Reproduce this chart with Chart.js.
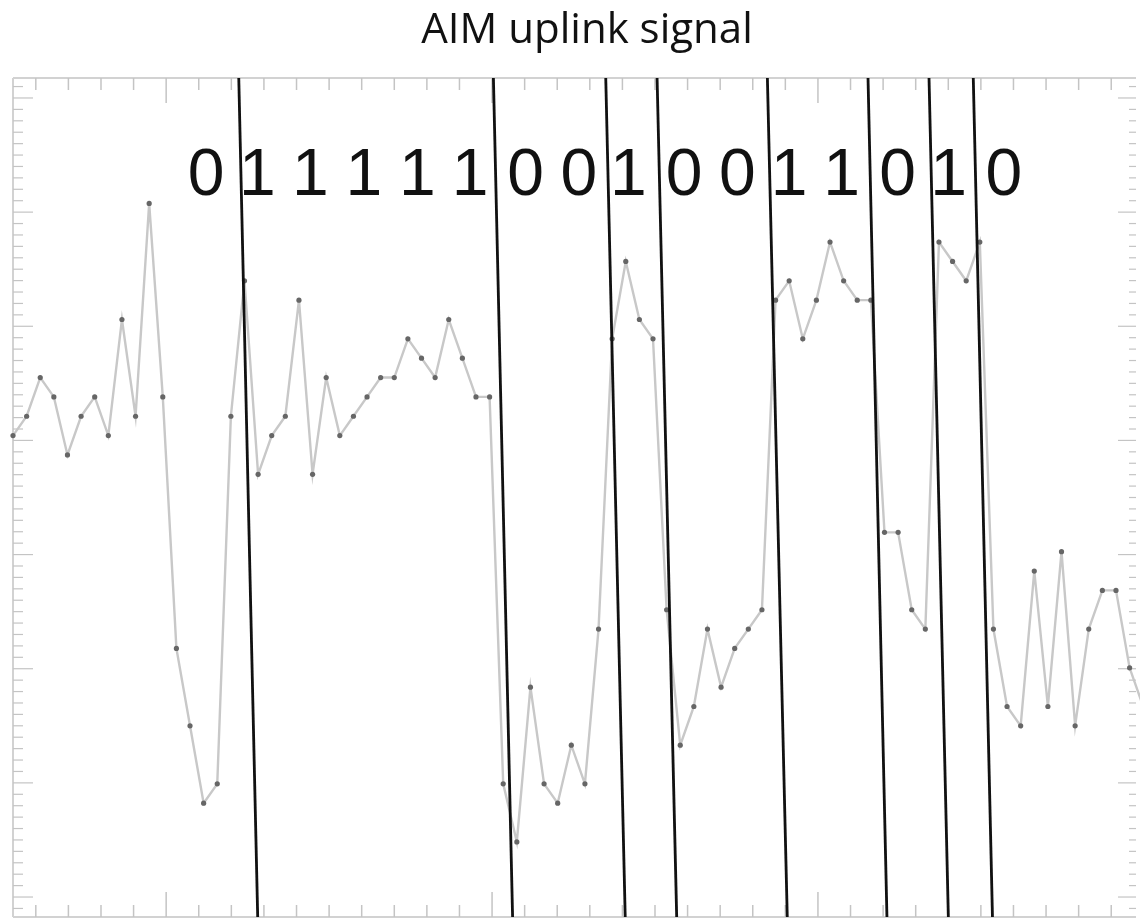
<!DOCTYPE html>
<html>
<head>
<meta charset="utf-8">
<title>AIM uplink signal</title>
<script src="https://cdn.jsdelivr.net/npm/chart.js@4/dist/chart.umd.min.js"></script>
<style>
  html, body { margin: 0; padding: 0; background: #fff; }
  #wrap { width: 1140px; height: 921px; position: relative; }
</style>
</head>
<body>
<div id="wrap"><canvas id="signalChart"></canvas></div>
<script>
const signal = [21, 22, 24, 23, 20, 22, 23, 21, 27, 22,
                33, 23, 10, 6, 2, 3, 22, 29, 19, 21,
                22, 28, 19, 24, 21, 22, 23, 24, 24, 26,
                25, 24, 27, 25, 23, 23, 3, 0, 8, 3,
                2, 5, 3, 11, 26, 30, 27, 26, 12, 5,
                7, 11, 8, 10, 11, 12, 28, 29, 26, 28,
                31, 29, 28, 28, 16, 16, 12, 11, 31, 30,
                29, 31, 11, 7, 6, 14, 7, 15, 6, 11,
                13, 13, 9, 7];

// decoded bits and where they sit (in sample units)
const bits = ['0', '1', '1', '1', '1', '1', '0', '0', '1', '0', '0', '1', '1', '0', '1', '0'];
const bitCenters = [14.19, 18.02, 21.93, 25.85, 29.77, 33.65, 37.66, 41.56,
                    45.28, 49.30, 53.20, 57.08, 60.94, 64.97, 68.79, 72.77];

// black boundary lines, x at top and bottom of the frame (sample units)
const boundaryTop    = [16.58, 35.28, 43.53, 47.30, 55.40, 62.79, 67.27, 70.52];
const boundaryBottom = [17.97, 36.69, 44.96, 48.74, 56.86, 64.18, 68.69, 71.93];

// axis ranges
const xRange = [0, 82.47];        // samples
const yRange = [-3.88, 39.48];    // levels
const xTickRange = [-4.70, 29.76]; // frame tick units (major every 10)
const yTickRange = [-1.75, 71.75];

const signalData = signal.map((v, i) => ({ x: i, y: v }));

const boundarySets = boundaryTop.map((xt, k) => ({
    data: [{ x: xt, y: yRange[1] }, { x: boundaryBottom[k], y: yRange[0] }],
    borderColor: '#111',
    borderWidth: 2.8,
    pointRadius: 0,
    tension: 0,
    order: 1
}));

// frame with inward ticks on all four sides
const frameTicks = {
    id: 'frameTicks',
    beforeDatasetsDraw(chart) {
        const { ctx, chartArea: a, scales } = chart;
        const xt = scales.xt, yt = scales.yt;
        const seg = (x1, y1, x2, y2) => { ctx.beginPath(); ctx.moveTo(x1, y1); ctx.lineTo(x2, y2); ctx.stroke(); };
        ctx.save();
        ctx.strokeStyle = '#d2d2d2';
        ctx.lineWidth = 2;
        seg(a.left, a.top, a.right, a.top);
        seg(a.left, a.bottom, a.right, a.bottom);
        seg(a.left, a.top, a.left, a.bottom);

        ctx.strokeStyle = '#c4c4c4';
        ctx.lineWidth = 1.5;
        for (let t = Math.ceil(xt.min); t <= xt.max; t++) {
            const x = xt.getPixelForValue(t);
            const len = (t % 10 === 0) ? 25 : 12;
            seg(x, a.top, x, a.top + len);
            seg(x, a.bottom, x, a.bottom - len);
        }
        ctx.lineWidth = 1.2;
        for (let v = Math.ceil(yt.min); v <= yt.max; v++) {
            const y = yt.getPixelForValue(v);
            const major = (v % 10 === 0);
            seg(a.left, y, a.left + (major ? 20 : 10), y);
            seg(a.right, y, a.right - (major ? 18 : 7), y);
        }
        ctx.restore();
    }
};

// title and bit digits
const labels = {
    id: 'labels',
    afterDatasetsDraw(chart) {
        const { ctx, chartArea: a, scales } = chart;
        ctx.save();
        ctx.fillStyle = '#111';
        ctx.textBaseline = 'alphabetic';
        ctx.font = '42px "Open Sans"';
        ctx.textAlign = 'center';
        ctx.fillText('AIM uplink signal', 587, 43);

        ctx.font = '66px "Liberation Sans", Arial, sans-serif';
        ctx.textAlign = 'left';
        bits.forEach((b, k) => {
            const cx = scales.x.getPixelForValue(bitCenters[k]);
            const m = ctx.measureText(b);
            const x = cx - (m.actualBoundingBoxRight - m.actualBoundingBoxLeft) / 2;
            ctx.fillText(b, x, a.top + 117);
        });
        ctx.restore();
    }
};

new Chart(document.getElementById('signalChart'), {
    type: 'line',
    data: {
        datasets: [
            {
                data: signalData,
                borderColor: '#c8c8c8',
                borderWidth: 2.4,
                pointRadius: 2.6,
                pointBackgroundColor: '#666',
                pointBorderWidth: 0,
                tension: 0,
                order: 2
            },
            ...boundarySets
        ]
    },
    options: {
        responsive: true,
        maintainAspectRatio: false,
        animation: false,
        events: [],
        layout: { padding: { left: 13, top: 78, right: 0, bottom: 4 } },
        datasets: { line: { clip: false } },
        scales: {
            x: { type: 'linear', display: false, min: xRange[0], max: xRange[1] },
            y: { type: 'linear', display: false, min: yRange[0], max: yRange[1] },
            xt: { type: 'linear', axis: 'x', position: 'bottom', display: false, min: xTickRange[0], max: xTickRange[1] },
            yt: { type: 'linear', axis: 'y', position: 'left', display: false, min: yTickRange[0], max: yTickRange[1] }
        },
        plugins: {
            legend: { display: false },
            title: { display: false },
            tooltip: { enabled: false }
        }
    },
    plugins: [frameTicks, labels]
});
</script>
</body>
</html>
